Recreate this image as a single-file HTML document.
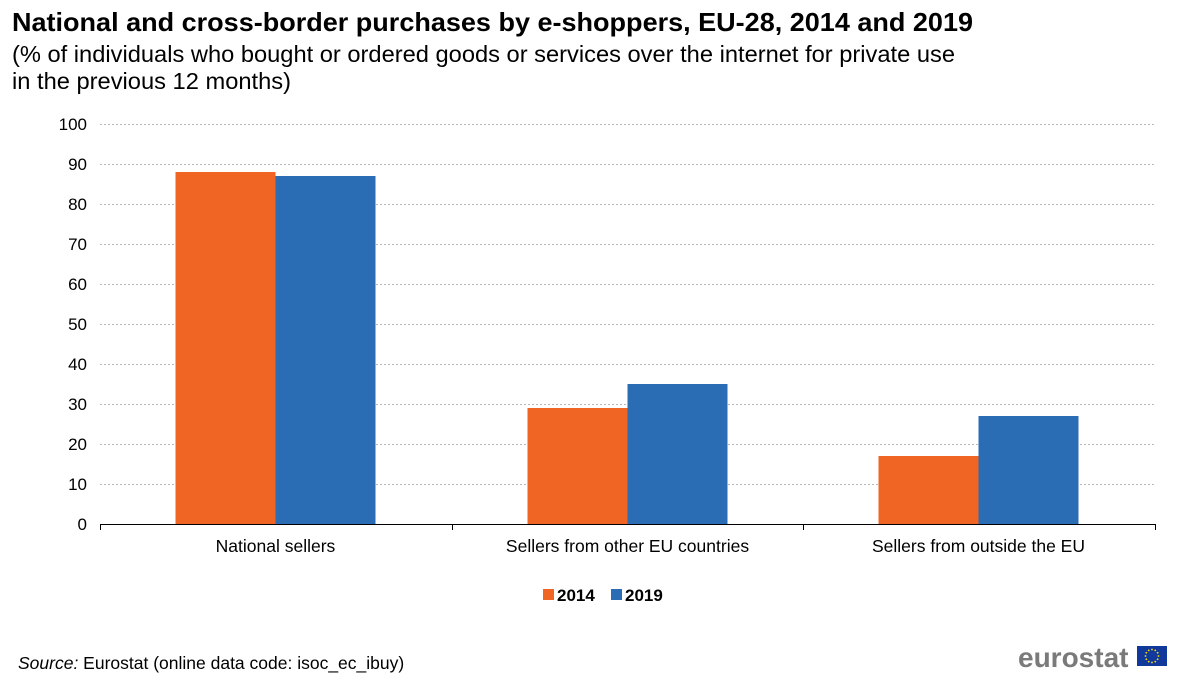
<!DOCTYPE html>
<html><head><meta charset="utf-8"><style>
body{margin:0;background:#fff;font-family:"Liberation Sans",Arial,sans-serif;}
svg text{font-family:"Liberation Sans",Arial,sans-serif;}
</style></head><body>
<svg id="chart" width="1200" height="682" viewBox="0 0 1200 682">
<text x="12" y="31" font-size="26" font-weight="bold" fill="#000" textLength="961" lengthAdjust="spacingAndGlyphs">National and cross-border purchases by e-shoppers, EU-28, 2014 and 2019</text>
<text x="12" y="62" font-size="23" fill="#000" textLength="943" lengthAdjust="spacingAndGlyphs">(% of individuals who bought or ordered goods or services over the internet for private use</text>
<text x="12" y="89" font-size="23" fill="#000" textLength="279" lengthAdjust="spacingAndGlyphs">in the previous 12 months)</text>
<g id="grid"></g>
<g id="yticks"></g>
<g id="bars"></g>
<g id="xaxis"></g>
<g>
<rect x="543" y="589" width="11" height="11" fill="#f06424"/>
<text x="557" y="601" font-size="17" font-weight="bold">2014</text>
<rect x="611" y="589" width="11" height="11" fill="#2a6db5"/>
<text x="625" y="601" font-size="17" font-weight="bold">2019</text>
</g>
<text x="18" y="669" font-size="17.5"><tspan font-style="italic">Source:</tspan> Eurostat (online data code: isoc_ec_ibuy)</text>
<text x="1018" y="667" font-size="28" font-weight="bold" fill="#7a7a7a">eurostat</text>
<g>
<rect x="1137" y="646" width="30" height="20" fill="#10399b"/>
<g id="stars" fill="#ffdd00"></g>
</g>
</svg>
<script>
const categories=["National sellers","Sellers from other EU countries","Sellers from outside the EU"];
const values2014=[88,29,17];
const values2019=[87,35,27];
const yTicks=[0,10,20,30,40,50,60,70,80,90,100];
const NS="http://www.w3.org/2000/svg";
const x0=100,x1=1155,y0=524,yTop=124,yMax=100;
const yScale=v=>y0-(v/yMax)*(y0-yTop);
const bandW=(x1-x0)/categories.length;
const xBand=i=>x0+i*bandW;
function mk(tag,attrs,parent){const e=document.createElementNS(NS,tag);for(const k in attrs)e.setAttribute(k,attrs[k]);parent.appendChild(e);return e;}
const grid=document.getElementById('grid'),yt=document.getElementById('yticks'),bars=document.getElementById('bars'),xa=document.getElementById('xaxis');
yTicks.forEach(t=>{
  const y=yScale(t);
  if(t>0){const l=mk('line',{x1:x0,x2:x1,y1:y+0.5,y2:y+0.5,stroke:'#b8b8b8','stroke-dasharray':'2,2','stroke-width':1},grid);
  
  }
  const tx=mk('text',{x:87,y:y+6,'font-size':17,'text-anchor':'end'},yt);tx.textContent=t;
  
  
});
const bw=100;
categories.forEach((c,i)=>{
  const cx=Math.round(xBand(i)+bandW/2)-0.5;
  const b1=mk('rect',{x:cx-bw,y:yScale(values2014[i]),width:bw,height:y0-yScale(values2014[i]),fill:'#f06424'},bars);
  
  
  const b2=mk('rect',{x:cx,y:yScale(values2019[i]),width:bw,height:y0-yScale(values2019[i]),fill:'#2a6db5'},bars);
  
  
  const t=mk('text',{x:cx,y:552,'font-size':17.5,'text-anchor':'middle'},xa);t.textContent=c;
  
  
});
mk('line',{x1:x0,x2:x1,y1:y0+0.5,y2:y0+0.5,stroke:'#000','stroke-width':1},xa);
for(let i=0;i<=categories.length;i++){const x=Math.round(xBand(i))+0.5;mk('line',{x1:x,x2:x,y1:y0,y2:y0+6,stroke:'#000'},xa);}
const st=document.getElementById('stars');
for(let k=0;k<12;k++){const a=k*Math.PI/6;mk('circle',{cx:1152+6.5*Math.cos(a),cy:656+6.5*Math.sin(a),r:0.9},st);}
</script>
</body></html>
